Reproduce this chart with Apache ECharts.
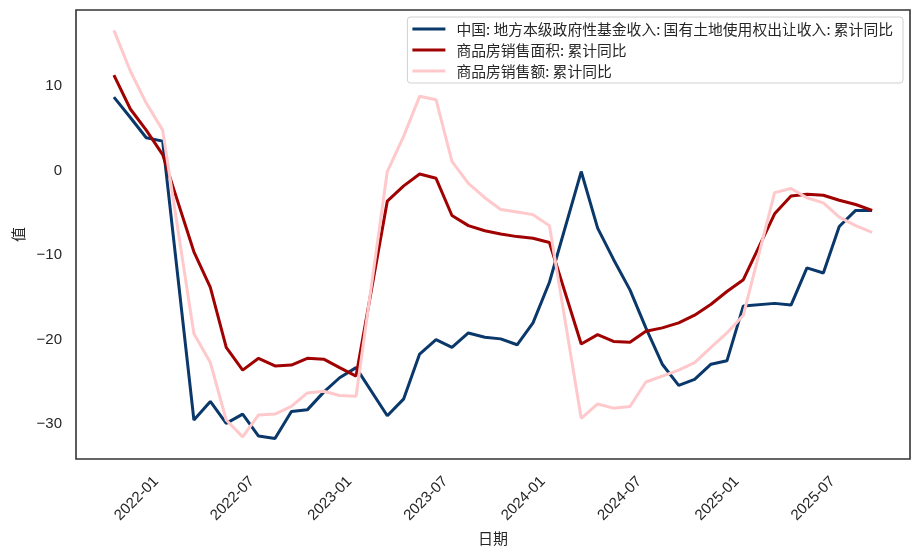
<!DOCTYPE html>
<html>
<head>
<meta charset="utf-8">
<script src="https://cdn.jsdelivr.net/npm/echarts@6/dist/echarts.min.js"></script>
<style>
  html, body { margin: 0; padding: 0; background: #fff; }
  #chart { width: 921px; height: 553px; }
</style>
</head>
<body>
<div id="chart"></div>
<script>
// Month-end dates (January is not published separately: Jan-Feb combined)
const dates = [
  '2021-09-30','2021-10-31','2021-11-30','2021-12-31',
  '2022-02-28','2022-03-31','2022-04-30','2022-05-31','2022-06-30','2022-07-31','2022-08-31','2022-09-30','2022-10-31','2022-11-30','2022-12-31',
  '2023-02-28','2023-03-31','2023-04-30','2023-05-31','2023-06-30','2023-07-31','2023-08-31','2023-09-30','2023-10-31','2023-11-30','2023-12-31',
  '2024-02-29','2024-03-31','2024-04-30','2024-05-31','2024-06-30','2024-07-31','2024-08-31','2024-09-30','2024-10-31','2024-11-30','2024-12-31',
  '2025-02-28','2025-03-31','2025-04-30','2025-05-31','2025-06-30','2025-07-31','2025-08-31'
];

const seriesNames = [
  '中国: 地方本级政府性基金收入: 国有土地使用权出让收入: 累计同比',
  '商品房销售面积: 累计同比',
  '商品房销售额: 累计同比'
];

const landRevenue = [
  8.7, 6.3, 3.9, 3.5,
  -29.5, -27.3, -29.9, -28.8, -31.4, -31.7, -28.5, -28.3, -26.2, -24.5, -23.3,
  -29.0, -27.0, -21.7, -20.0, -20.9, -19.2, -19.7, -19.9, -20.6, -18.0, -13.2,
  -0.1, -6.8, -10.5, -14.1, -18.6, -22.9, -25.4, -24.7, -22.9, -22.5, -16.0,
  -15.7, -15.9, -11.5, -12.1, -6.6, -4.7, -4.7
];

const salesArea = [
  11.3, 7.3, 4.8, 1.9,
  -9.6, -13.8, -20.9, -23.6, -22.2, -23.1, -23.0, -22.2, -22.3, -23.3, -24.3,
  -3.6, -1.8, -0.4, -0.9, -5.3, -6.5, -7.1, -7.5, -7.8, -8.0, -8.5,
  -20.5, -19.4, -20.2, -20.3, -19.0, -18.6, -18.0, -17.1, -15.8, -14.3, -12.9,
  -5.1, -3.0, -2.8, -2.9, -3.5, -4.0, -4.7
];

const salesValue = [
  16.6, 11.8, 8.0, 4.8,
  -19.3, -22.7, -29.5, -31.5, -28.9, -28.8, -27.9, -26.3, -26.1, -26.6, -26.7,
  -0.1, 4.1, 8.8, 8.4, 1.1, -1.5, -3.2, -4.6, -4.9, -5.2, -6.5,
  -29.3, -27.6, -28.1, -27.9, -25.0, -24.3, -23.6, -22.7, -20.9, -19.2, -17.1,
  -2.6, -2.1, -3.2, -3.8, -5.5, -6.5, -7.3
];

const colors = ['#0a386a', '#a00202', '#ffc9cb'];

// axis extents: 5% margin like matplotlib
const ts = dates.map(d => echarts.time.parse(d).getTime());
const tSpan = ts[ts.length - 1] - ts[0];
const xMin = ts[0] - 0.05 * tSpan;
const xMax = ts[ts.length - 1] + 0.05 * tSpan;
const allVals = landRevenue.concat(salesArea, salesValue);
const vMinRaw = Math.min(...allVals), vMaxRaw = Math.max(...allVals);
const vPad = 0.05 * (vMaxRaw - vMinRaw);
const yMin = vMinRaw - vPad, yMax = vMaxRaw + vPad;

function pairs(vals) { return dates.map((d, i) => [d, vals[i]]); }

const textColor = '#262626';
const DAY = 86400000;

const chart = echarts.init(document.getElementById('chart'), null, { renderer: 'canvas' });
chart.setOption({
  animation: false,
  backgroundColor: '#ffffff',
  grid: {
    left: 76, right: 11, top: 10, bottom: 94,
    show: true, borderColor: '#333333', borderWidth: 1.6, backgroundColor: 'transparent'
  },
  legend: {
    orient: 'vertical',
    right: 18, top: 17,
    padding: [4, 10, 4, 5],
    itemGap: 5,
    itemWidth: 33, itemHeight: 3,
    icon: 'rect',
    backgroundColor: 'rgba(255,255,255,0.8)',
    borderColor: '#d0d0d0', borderWidth: 1, borderRadius: 3,
    textStyle: {
      fontFamily: 'Noto Sans CJK SC', fontSize: 14.8, color: textColor,
      lineHeight: 16, padding: [0, 0, 0, 6]
    },
    data: seriesNames
  },
  xAxis: {
    type: 'time',
    min: xMin, max: xMax,
    minInterval: 180 * DAY, maxInterval: 186 * DAY,
    name: '日期',
    nameLocation: 'middle',
    nameGap: 62,
    nameTextStyle: { fontFamily: 'Noto Sans CJK SC', fontSize: 15, color: textColor },
    axisLine: { show: false },
    axisTick: { show: false },
    splitLine: { show: false },
    axisLabel: {
      rotate: 45,
      margin: 13,
      padding: [0, 10, 0, 0],
      fontFamily: 'Liberation Sans', fontSize: 15, color: textColor,
      showMinLabel: false, showMaxLabel: false,
      formatter: function (v) {
        const d = new Date(v);
        return d.getFullYear() + '-' + String(d.getMonth() + 1).padStart(2, '0');
      }
    }
  },
  yAxis: {
    type: 'value',
    min: yMin, max: yMax,
    name: '值',
    nameLocation: 'middle',
    nameGap: 44,
    nameRotate: 90,
    nameTextStyle: { fontFamily: 'Noto Sans CJK SC', fontSize: 15, color: textColor },
    axisLine: { show: false },
    axisTick: { show: false },
    splitLine: { show: false },
    axisLabel: {
      margin: 14,
      fontFamily: 'Liberation Sans', fontSize: 15, color: textColor,
      formatter: function (v) {
        const r = Math.round(v);
        if (Math.abs(v - r) > 1e-6 || r % 10 !== 0) return '';
        return r < 0 ? '\u2212' + Math.abs(r) : String(r);
      }
    }
  },
  series: [landRevenue, salesArea, salesValue].map((vals, i) => ({
    name: seriesNames[i],
    type: 'line',
    data: pairs(vals),
    showSymbol: false,
    symbol: 'none',
    color: colors[i],
    lineStyle: { width: 3, color: colors[i] },
    z: 2 + i
  }))
});
</script>
</body>
</html>
